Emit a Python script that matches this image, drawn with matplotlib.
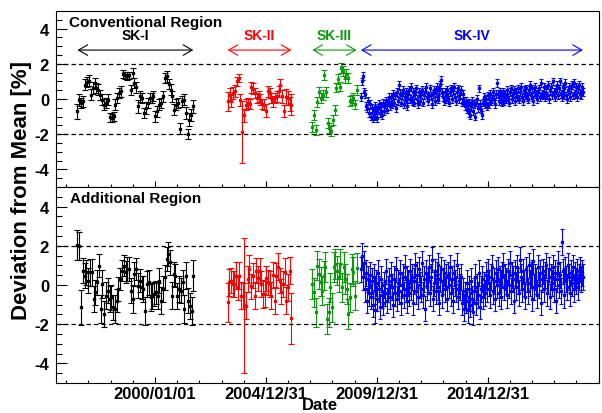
import numpy as np
import pandas as pd
import matplotlib
matplotlib.use("Agg")
import matplotlib.pyplot as plt
from datetime import datetime

plt.rcParams['font.family'] = ['Liberation Sans', 'DejaVu Sans']
plt.rcParams['font.weight'] = 'bold'

# first / last bin of each SK phase
sk1_range = ("1996-07-03", "2001-09-22")
sk2_range = ("2003-04-12", "2006-02-23")
sk3_range = ("2007-02-04", "2009-02-02")
sk4_range = ("2009-04-14", "2019-04-17")

# --- Conventional region (top panel), deviation in % ---
sk1_top = [-0.70, -0.04, -0.23, -0.13, 0.81, 0.97, 1.04, 0.24, 0.63, 0.91,
           0.63, 0.53, 0.24, -0.04, -0.32, -0.23, -0.04, -1.04, -1.08, -0.98,
           -0.32, 0.06, 0.34, 0.44, 1.42, 1.34, 1.29, 1.34, 0.53, 1.48,
           0.91, 0.66, -0.42, 0.15, 0.06, -0.80, -0.51, -0.23, 0.06, 0.06,
           0.15, -0.98, -0.70, -0.32, -0.23, 0.15, 1.19, 1.29, 0.85, 0.53,
           0.15, -0.61, -0.32, -0.23, -1.69, -0.13, -0.04, -0.80, -1.99, -1.18,
           -0.89, -0.42]
sk1_top_err = [0.42, 0.35, 0.30, 0.30, 0.30, 0.28, 0.30, 0.30, 0.32, 0.30,
               0.30, 0.30, 0.28, 0.30, 0.32, 0.30, 0.30, 0.25, 0.25, 0.25,
               0.30, 0.30, 0.30, 0.30, 0.22, 0.22, 0.22, 0.22, 0.28, 0.30,
               0.30, 0.30, 0.35, 0.32, 0.30, 0.30, 0.32, 0.30, 0.28, 0.28,
               0.28, 0.32, 0.30, 0.30, 0.30, 0.32, 0.30, 0.30, 0.30, 0.30,
               0.30, 0.32, 0.30, 0.30, 0.30, 0.30, 0.30, 0.35, 0.30, 0.38,
               0.35, 0.38]
sk2_top = [-0.13, 0.24, -0.13, 0.34, 0.47, 1.01, 1.19, -0.04, -1.88, -0.93,
           -0.32, -0.23, -0.28, 0.66, 0.59, 0.34, 0.06, 0.15, -0.04, -0.28,
           -0.32, -0.66, 0.44, 0.34, 0.06, -0.13, 0.06, 0.15, 0.44, 0.81,
           0.15, -0.70, 0.10, 0.06, -0.28, -0.32]
sk2_top_err = [0.55, 0.40, 0.35, 0.35, 0.35, 0.25, 0.25, 0.35, 1.75, 0.35,
               0.30, 0.30, 0.30, 0.30, 0.30, 0.30, 0.30, 0.30, 0.30, 0.30,
               0.30, 0.35, 0.30, 0.30, 0.30, 0.30, 0.30, 0.30, 0.30, 0.30,
               0.35, 0.35, 0.45, 0.40, 0.40, 0.60]
sk3_top = [-1.61, -0.89, -1.74, -0.17, 0.40, 0.06, 0.23, 1.38, 0.38, -1.36,
           -1.65, -1.84, -1.18, -0.61, 0.65, 1.16, 0.71, 1.76, 1.59, 1.19,
           1.42, 1.19, -0.13, -0.04, 0.06, -0.31, 0.51]
sk3_top_err = 0.28
sk4_top = [0.1, 1.0, 1.3, 0.4, 0.3, -0.4, -0.5, -0.1, -0.8, -0.3,
           -1.0, -0.5, -1.1, -0.7, -0.4, -1.0, -0.6, -1.1, -0.5, -0.3,
           -0.8, -0.4, -0.9, -0.2, -0.7, -0.3, -0.1, -0.6, -0.2, 0.1,
           -0.4, 0.1, -0.3, 0.3, -0.2, 0.2, -0.5, 0.4, -0.1, 0.8,
           0.3, -0.2, 0.2, 0.5, -0.3, 0.1, 0.4, 0.0, -0.4, 0.3,
           0.5, 0.0, 0.7, -0.1, 0.4, -0.2, 0.3, 0.6, 0.0, -0.3,
           0.4, -0.1, 0.3, 0.5, -0.2, 0.2, 0.4, 0.7, 0.1, -0.1,
           0.2, 0.6, 0.2, -0.3, 0.3, 0.5, -0.1, 0.4, 0.7, 0.1,
           0.0, 0.5, 0.8, 1.1, 0.4, 0.1, -0.1, 0.4, 0.0, 0.5,
           0.1, -0.2, 0.4, 0.6, 0.0, 0.5, 0.7, 0.1, -0.1, 0.4,
           0.6, 0.0, 0.3, 0.5, -0.2, 0.3, -0.1, -0.4, -0.1, -0.6,
           -0.3, -0.8, -0.2, -0.9, -0.4, -0.1, -0.7, -0.3, -1.0, -0.2,
           0.0, -0.5, 0.6, -0.3, -0.6, -0.9, -0.2, 0.1, -0.3, 0.0,
           -0.4, 0.2, -0.3, 0.3, -0.1, 0.0, 0.4, 0.0, -0.3, 0.3,
           0.9, 0.3, -0.1, 0.4, 0.0, 0.3, -0.2, 0.4, -0.1, 0.3,
           0.0, 0.5, 0.1, -0.2, 0.4, 0.6, 0.0, 0.3, 0.5, -0.1,
           0.4, 0.1, 0.6, 0.0, 0.4, 0.7, 0.1, -0.1, 0.5, 0.2,
           0.6, 0.1, 0.0, 0.5, 0.8, 0.2, 0.1, 0.6, -0.1, 0.4,
           0.7, 0.3, 0.0, 0.4, 0.6, 0.1, 0.9, 0.3, 0.2, 0.7,
           0.1, 0.6, 0.2, 0.8, 0.0, 0.5, 0.7, 0.2, 1.0, 0.4,
           0.1, 0.5, 0.8, 0.2, 0.6, 1.0, 0.3, 0.1, 0.7, 0.2,
           0.6, 0.9, 0.2, 0.0, 0.5, 0.7, 0.1, 0.6, 0.8, 0.2,
           0.9, 0.3, 0.7, 0.1, 0.6, 0.8, 0.3, 0.2, 0.7, 0.4]
sk4_top_err = 0.22

# --- Additional region (bottom panel) ---
sk1_bot = [2.02, 1.98, -1.14, 0.73, 0.48, 0.65, 0.22, 0.65, 0.65, -0.72,
           -0.38, 0.14, 0.99, -1.23, 0.05, -1.49, -0.55, -0.29, -0.72, -0.63,
           -1.14, -1.23, -0.80, -0.21, 0.31, 0.73, 0.99, 0.65, 0.82, 0.82,
           -0.29, -0.72, 0.56, 0.82, -0.03, 0.22, -0.12, -0.21, -1.32, 0.05,
           0.14, -0.63, -0.55, -0.46, -0.38, -0.55, 0.22, -0.80, -0.21, 0.39,
           1.33, 1.59, 1.16, -0.55, 0.56, 0.48, -0.55, -0.21, -0.29, 0.14,
           -1.23, 0.48, -0.80, -1.06, -1.32, 0.48]
sk1_bot_err = [0.77, 0.70, 0.90, 0.65, 0.65, 0.65, 0.65, 0.70, 0.70, 0.65,
               0.65, 0.65, 0.60, 0.70, 0.70, 0.65, 0.70, 0.65, 0.65, 0.65,
               0.65, 0.70, 0.60, 0.60, 0.55, 0.55, 0.55, 0.55, 0.60, 0.60,
               0.65, 0.70, 0.60, 0.55, 0.65, 0.60, 0.60, 0.65, 0.70, 0.65,
               0.65, 0.70, 0.65, 0.60, 0.60, 0.65, 0.65, 0.70, 0.65, 0.65,
               0.60, 0.60, 0.65, 0.70, 0.60, 0.60, 0.65, 0.65, 0.65, 0.65,
               0.70, 0.70, 0.65, 0.65, 0.70, 0.80]
sk2_bot = [-0.89, 0.14, 0.22, 0.05, 0.05, 0.48, -0.12, 0.48, -0.55, -0.55,
           -1.03, -1.06, 0.31, 0.82, -0.07, 0.48, -0.55, 0.73, 0.34, 0.73,
           0.05, -0.46, -0.46, 0.34, 0.14, 0.05, -0.55, 0.51, -0.80, 0.48,
           0.94, 0.22, -0.34, 0.05, 0.68, -0.80, -0.12, 0.73, -1.69]
sk2_bot_err = [1.00, 0.70, 0.65, 0.65, 0.65, 0.70, 0.65, 0.70, 0.70, 0.65,
               3.45, 0.70, 0.65, 0.70, 0.65, 0.65, 0.70, 0.65, 0.65, 0.65,
               0.65, 0.70, 0.65, 0.65, 0.65, 0.65, 0.70, 0.65, 0.70, 0.65,
               0.70, 0.65, 0.65, 0.65, 0.70, 0.70, 0.70, 0.70, 1.30]
sk3_bot = [0.05, -0.37, -1.40, 0.99, 0.56, 0.17, -0.29, 0.48, 0.91, -1.74,
           -1.40, -0.12, -1.14, 0.91, 1.08, 0.73, 0.39, 1.08, -0.12, 0.91,
           0.31, -0.21, -1.49, -0.63, 0.82, 0.68, -0.55, 0.86]
sk3_bot_err = 0.75
sk4_bot = [0.8, 1.5, 0.4, 1.1, -0.2, 0.6, -0.8, 0.3, -0.4, 0.5,
           -0.6, 0.2, -1.0, 0.4, -0.3, -1.3, 0.1, -0.7, 0.6, -0.2,
           -1.1, 0.3, -0.5, -0.9, 0.0, -0.4, 0.7, -0.8, -0.2, 0.2,
           -0.6, 0.5, -0.1, -1.0, 0.3, -0.4, 0.8, -0.7, 0.1, -0.3,
           0.6, -0.9, 0.0, 0.4, -0.5, 0.9, -0.2, -0.8, 0.3, 0.1,
           -0.4, 0.7, -0.1, 0.4, -0.9, 0.2, 1.0, -0.3, 0.5, -0.6,
           0.8, 0.0, -0.2, 1.1, -0.5, 0.3, -1.2, 0.6, -0.1, 0.2,
           0.9, -0.4, 0.4, 1.3, -0.7, 0.1, 0.7, -0.3, 0.5, 1.0,
           -0.1, -0.9, 0.3, 0.8, -0.5, 0.2, 0.6, -0.2, 0.4, -0.7,
           0.5, 0.0, 0.9, -0.4, 0.3, -0.8, 0.6, 0.1, -0.2, 1.0,
           -0.6, 0.2, -0.1, 0.4, -0.9, -0.3, -1.2, -0.5, -0.8, 0.1,
           -1.3, -0.6, -0.2, -1.0, 0.2, -0.7, -1.4, -0.3, 0.4, -0.9,
           -0.1, -0.5, 0.6, -1.1, -0.2, 0.3, -0.6, 0.0, -0.4, 0.5,
           -0.2, 0.7, 0.1, -0.5, 0.4, 0.9, -0.3, 0.2, -0.7, 0.6,
           0.0, 0.8, -0.4, 0.3, 0.1, -0.6, 0.5, 1.0, -0.1, 0.4,
           0.2, -0.5, 0.7, 0.0, 1.1, -0.3, 0.5, 0.3, -0.8, 0.6,
           -0.1, 0.9, 0.2, -0.4, 1.3, 0.4, -0.2, 0.7, 0.1, -0.6,
           0.8, 0.3, -0.3, 1.0, 0.1, 0.5, -0.7, 0.6, 1.2, -0.1,
           0.4, 0.2, -0.5, 0.9, 0.0, 0.6, -0.9, 0.3, 0.7, -0.2,
           0.5, 1.0, -0.4, 0.2, 0.8, -0.6, 0.4, 0.1, 0.9, -0.2,
           0.6, -0.8, 0.3, 1.1, 0.0, 0.5, -0.3, 2.2, 0.7, 0.2,
           -0.5, 0.8, 0.3, -0.1, 1.0, 0.4, -0.4, 0.6, 0.1, 0.9,
           -0.2, 0.5, 0.2, 0.7, -0.1, 0.4, 0.8, 0.3, 0.6, 0.4]
sk4_bot_err = 0.65

phase_names = ["SK-I", "SK-II", "SK-III", "SK-IV"]
phase_colors = ["black", "#ff0000", "#0a990a", "#0000ff"]
phase_ranges = [sk1_range, sk2_range, sk3_range, sk4_range]
top_data = [(sk1_top, sk1_top_err), (sk2_top, sk2_top_err),
            (sk3_top, sk3_top_err), (sk4_top, sk4_top_err)]
bot_data = [(sk1_bot, sk1_bot_err), (sk2_bot, sk2_bot_err),
            (sk3_bot, sk3_bot_err), (sk4_bot, sk4_bot_err)]

major_dates = [datetime(2000, 1, 1), datetime(2004, 12, 31),
               datetime(2009, 12, 31), datetime(2014, 12, 31)]
major_labels = ["2000/01/01", "2004/12/31", "2009/12/31", "2014/12/31"]
x_lo, x_hi = datetime(1995, 7, 15), datetime(2020, 1, 7)


def bin_dates(rng, n):
    return pd.date_range(rng[0], rng[1], periods=n)


def style_axis(ax, show_labels):
    ax.set_xlim(x_lo, x_hi)
    ax.set_ylim(-5, 5)
    ax.set_yticks([-4, -2, 0, 2, 4])
    ax.set_yticks(np.arange(-4.5, 5.0, 0.5), minor=True)
    ax.set_xticks(major_dates)
    minors = [pd.Timestamp(major_dates[0]) + pd.Timedelta(days=365.25 * k)
              for k in range(-5, 22)]
    minors = [m for m in minors if x_lo < m < x_hi]
    ax.set_xticks(minors, minor=True)
    if show_labels:
        ax.set_xticklabels(major_labels)
    else:
        ax.set_xticklabels([])
    ax.set_yticklabels(["-4", "-2", "0", "2", "4"])
    ax.tick_params(axis='y', which='major', direction='in', length=8, width=0.8,
                   labelsize=12, pad=5)
    ax.tick_params(axis='y', which='minor', direction='in', length=4.3, width=0.8)
    ax.tick_params(axis='x', which='major', direction='in', length=4.5, width=0.8,
                   labelsize=12, pad=2)
    ax.tick_params(axis='x', which='minor', direction='in', length=2.4, width=0.8)
    for s in ax.spines.values():
        s.set_linewidth(0.8)
    for yv in (2, -2):
        ax.axhline(yv, color='black', lw=0.9, ls=(0, (3.5, 2.5)), zorder=1)


def draw_points(ax, data):
    for i, ((vals, err), rng, col) in enumerate(zip(data, phase_ranges, phase_colors)):
        x = bin_dates(rng, len(vals))
        cap = 1.6 if i == 3 else 2.2
        ax.errorbar(x, vals, yerr=err, fmt='s', ms=2.0, color=col, ecolor=col,
                    elinewidth=0.8, capsize=cap, capthick=0.8, zorder=3)


fig = plt.figure(figsize=(6.02, 4.14), dpi=100)
ax_top = fig.add_axes([0.0930, 0.5459, 0.902, 0.4251])
ax_bot = fig.add_axes([0.0930, 0.0725, 0.902, 0.4734])

style_axis(ax_top, False)
style_axis(ax_bot, True)
draw_points(ax_top, top_data)
draw_points(ax_bot, bot_data)

# phase arrows and names
for name, rng, col in zip(phase_names, phase_ranges, phase_colors):
    a, b = pd.Timestamp(rng[0]), pd.Timestamp(rng[1])
    ax_top.annotate('', xy=(b, 2.78), xytext=(a, 2.78),
                    arrowprops=dict(arrowstyle='<->,head_length=0.65,head_width=0.38',
                                    color=col, lw=0.8, shrinkA=0, shrinkB=0,
                                    mutation_scale=10))
    ax_top.text(a + (b - a) / 2, 3.64, name, color=col, fontsize=10,
                fontweight='bold', ha='center', va='center')

ax_top.text(0.024, 0.9375, "Conventional Region", transform=ax_top.transAxes,
            fontsize=11, fontweight='bold', ha='left', va='center')
ax_bot.text(0.026, 0.944, "Additional Region", transform=ax_bot.transAxes,
            fontsize=11, fontweight='bold', ha='left', va='center')

fig.text(0.035, 1 - 190 / 414, "Deviation from Mean [%]", rotation=90,
         fontsize=16, fontweight='bold', ha='center', va='center')
fig.text(0.531, 1 - 406 / 414, "Date", fontsize=12, fontweight='bold',
         ha='center', va='center')

fig.savefig("out.png", dpi=100)
